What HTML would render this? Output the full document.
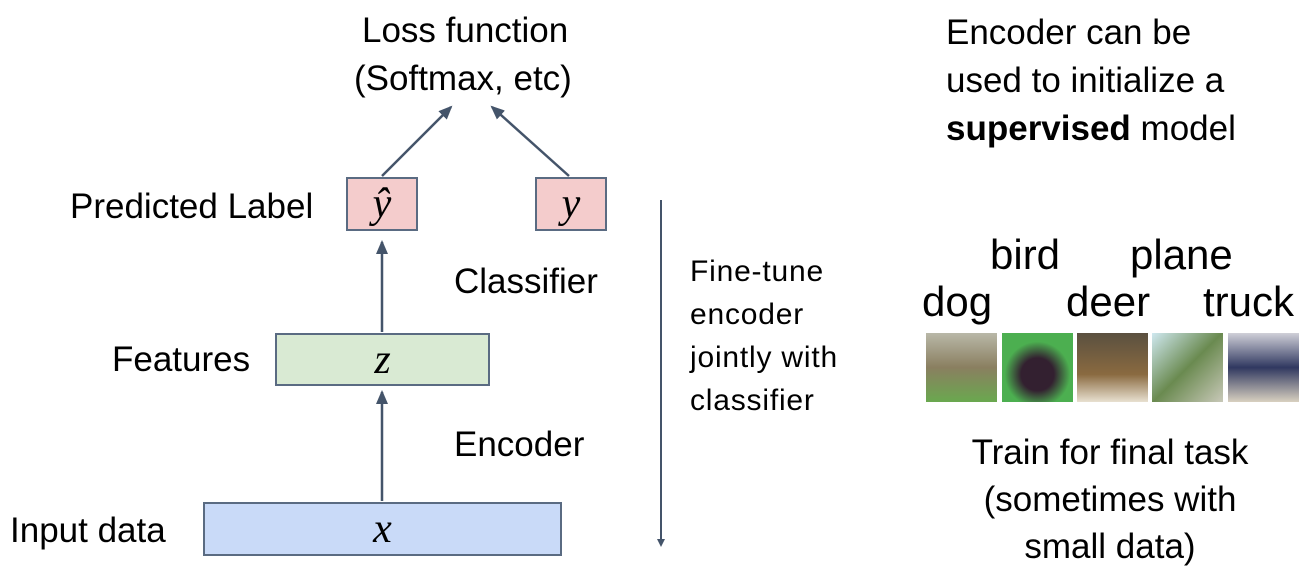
<!DOCTYPE html>
<html><head><style>
body{margin:0;width:1300px;height:566px;background:#fff;position:relative;font-family:"Liberation Sans","DejaVu Sans",sans-serif;overflow:hidden}
.t{position:absolute;font-size:35px;color:#000;white-space:nowrap;line-height:1}
.b{position:absolute;border:2px solid #5a6b82;box-sizing:border-box;display:flex;align-items:center;justify-content:center;font-family:"Liberation Serif",serif;font-style:italic;font-size:42px}
.im{position:absolute;top:333px;width:71px;height:69px}
</style></head><body>
<div class="t" style="left:362px;top:13px">Loss function</div>
<div class="t" style="left:354px;top:61px">(Softmax, etc)</div>
<div class="t" style="left:70px;top:189px">Predicted Label</div>
<div class="t" style="left:454px;top:264px">Classifier</div>
<div class="t" style="left:112px;top:342px">Features</div>
<div class="t" style="left:454px;top:427px">Encoder</div>
<div class="t" style="left:10px;top:513px">Input data</div>
<div class="t" style="left:690px;top:250px;font-size:30px;letter-spacing:0.8px;line-height:43px">Fine-tune<br>encoder<br>jointly with<br>classifier</div>
<div class="t" style="left:946px;top:9px;line-height:48px">Encoder can be<br>used to initialize a<br><b>supervised</b> model</div>
<div class="t" style="left:990px;top:234px;font-size:42px">bird</div>
<div class="t" style="left:1130px;top:234px;font-size:42px">plane</div>
<div class="t" style="left:922px;top:281px;font-size:42px">dog</div>
<div class="t" style="left:1066px;top:281px;font-size:42px">deer</div>
<div class="t" style="left:1203px;top:281px;font-size:42px">truck</div>
<div class="t" style="left:950px;top:429px;line-height:47px;text-align:center;width:320px">Train for final task<br>(sometimes with<br>small data)</div>
<div class="b" style="left:346px;top:177px;width:72px;height:54px;background:#f4cccc">ŷ</div>
<div class="b" style="left:535px;top:177px;width:72px;height:54px;background:#f4cccc">y</div>
<div class="b" style="left:275px;top:333px;width:215px;height:53px;background:#d9ead3">z</div>
<div class="b" style="left:203px;top:502px;width:359px;height:54px;background:#c9daf8">x</div>
<div class="im" style="left:926px;background:linear-gradient(#b9b8a8,#8a7f60 50%,#6aa84f)"></div>
<div class="im" style="left:1002px;background:radial-gradient(circle at 50% 60%,#332030 30%,#4caf50 60%)"></div>
<div class="im" style="left:1077px;background:linear-gradient(#5a5040,#8a6a40 60%,#e8e0d0)"></div>
<div class="im" style="left:1152px;background:linear-gradient(135deg,#cfe8f0,#6a8a50 50%,#c8c8b8)"></div>
<div class="im" style="left:1228px;background:linear-gradient(#d0d0d8,#303860 50%,#d8d0c0)"></div>
<svg width="1300" height="566" style="position:absolute;left:0;top:0">
<defs><marker id="a" markerWidth="8" markerHeight="8" refX="6" refY="4" orient="auto" markerUnits="userSpaceOnUse"><path d="M0,0L8,4L0,8z" fill="#44546a"/></marker>
<marker id="m" markerWidth="14" markerHeight="12" refX="12" refY="6" orient="auto" markerUnits="userSpaceOnUse"><path d="M0,0L14,6L0,12z" fill="#44546a"/></marker></defs>
<g stroke="#44546a" stroke-width="2.5">
<line x1="382" y1="176" x2="451" y2="107" marker-end="url(#m)"/>
<line x1="569" y1="176" x2="492" y2="107" marker-end="url(#m)"/>
<line x1="382" y1="332" x2="382" y2="242" marker-end="url(#m)"/>
<line x1="382" y1="501" x2="382" y2="392" marker-end="url(#m)"/>
<line x1="661" y1="200" x2="661" y2="545" stroke-width="2" marker-end="url(#a)"/>
</g></svg>
</body></html>
